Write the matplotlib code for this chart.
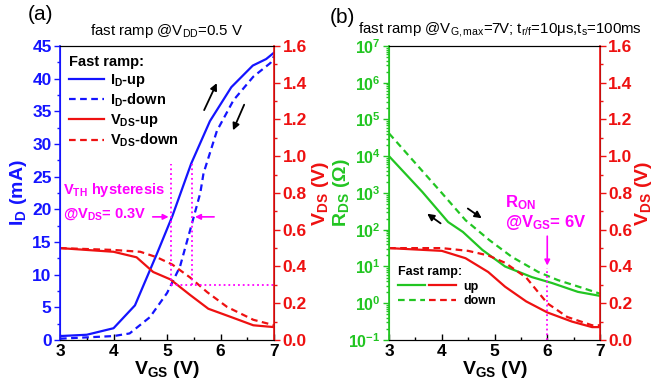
import numpy as np
import matplotlib.pyplot as plt
from matplotlib.ticker import MultipleLocator, LogLocator, NullFormatter, FormatStrFormatter
from matplotlib.legend_handler import HandlerTuple
from matplotlib.lines import Line2D

plt.rcParams['font.family'] = 'Liberation Sans'
plt.rcParams['mathtext.fontset'] = 'custom'
plt.rcParams['mathtext.rm'] = 'Liberation Sans'
plt.rcParams['mathtext.bf'] = 'Liberation Sans:bold'
plt.rcParams['mathtext.it'] = 'Liberation Sans:italic'

BLUE = '#1414ff'
RED = '#ee1111'
GREEN = '#22c522'
MAG = '#ff00ff'

# panel (a): I_D and V_DS vs V_GS
vg_id_up = [3, 3.5, 4, 4.4, 4.8, 5.1, 5.45, 5.8, 6.2, 6.6, 6.85, 7]
id_up = [0.6, 0.8, 1.8, 5.3, 13, 19, 27, 33.5, 38.7, 42, 43, 44]
vg_id_dn = [3, 4, 4.3, 4.68, 5.0, 5.24, 5.47, 5.62, 5.68, 5.93, 6.24, 6.61, 6.93, 7]
id_dn = [0.2, 0.6, 1.0, 3.5, 7.2, 11.2, 18, 22.5, 25.5, 32, 36.7, 40.3, 42.4, 43.5]
vg_vds_up = [3, 4, 4.43, 4.74, 5.06, 5.43, 5.77, 6.24, 6.61, 7]
vds_up = [0.5, 0.48, 0.45, 0.37, 0.33, 0.245, 0.17, 0.12, 0.08, 0.07]
vg_vds_dn = [3, 4, 4.5, 4.81, 5.1, 5.43, 5.75, 6.12, 6.61, 7]
vds_dn = [0.5, 0.49, 0.48, 0.45, 0.41, 0.34, 0.26, 0.18, 0.11, 0.08]

# panel (b): R_DS and V_DS vs V_GS
vg_r_up = [3, 3.63, 4.12, 4.4, 4.77, 5.2, 5.71, 6.09, 6.58, 7]
r_up = [1e4, 10**3.03, 10**2.21, 10**1.94, 10**1.45, 10**1.0, 10**0.71, 10**0.55, 10**0.31, 10**0.2]
vg_r_dn = [3, 4, 4.45, 4.9, 5.33, 5.83, 6.2, 6.66, 7]
r_dn = [10**4.62, 10**3.0, 10**2.26, 10**1.72, 10**1.26, 10**0.85, 10**0.63, 10**0.42, 10**0.26]
vg_b_up = [3, 4, 4.45, 4.88, 5.2, 5.6, 6.0, 6.47, 6.85, 7]
vds_b_up = [0.5, 0.485, 0.445, 0.37, 0.29, 0.21, 0.15, 0.1, 0.07, 0.07]
vg_b_dn = [3, 4, 4.5, 4.88, 5.2, 5.6, 6.0, 6.38, 6.85, 7]
vds_b_dn = [0.5, 0.5, 0.485, 0.46, 0.42, 0.34, 0.2, 0.125, 0.08, 0.08]

xticks = [3, 4, 5, 6, 7]
log_exps = list(range(-1, 8))

fig = plt.figure(figsize=(6.55, 3.92), dpi=100)
axA = fig.add_axes([0.0916, 0.1327, 0.327, 0.75])
axA2 = axA.twinx()
axB = fig.add_axes([0.594, 0.1327, 0.322, 0.75])
axB2 = axB.twinx()

tfs = 12.5
lfs = 14

def style_x(ax):
    ax.set_xlim(3, 7)
    ax.set_xticks(xticks)
    ax.xaxis.set_minor_locator(MultipleLocator(0.5))
    ax.tick_params(axis='x', which='both', direction='in', labelsize=tfs, width=1, pad=3)
    ax.tick_params(axis='x', which='major', length=4)
    ax.tick_params(axis='x', which='minor', length=2)
    for t in ax.get_xticklabels():
        t.set_fontweight('bold')
    ax.set_xlabel(r'V$_\mathbf{GS}$ (V)', fontsize=lfs, fontweight='bold', labelpad=0)

def style_y(ax, color, side, size=tfs):
    ax.tick_params(axis='y', which='both', direction='out', colors=color, labelsize=size, width=1, pad=2)
    ax.tick_params(axis='y', which='major', length=4)
    ax.tick_params(axis='y', which='minor', length=2)
    ax.spines[side].set_color(color)
    ax.spines[side].set_linewidth(1.2)
    for t in ax.get_yticklabels():
        t.set_fontweight('bold')

arrow_k = dict(arrowstyle='-|>', color='black', lw=1.3, mutation_scale=10)
arrow_m = dict(arrowstyle='-|>', color=MAG, lw=1.2, mutation_scale=8)

# ---- panel (a)
axA.plot(vg_id_up, id_up, color=BLUE, lw=1.6, label=r'I$_\mathbf{D}$-up')
axA.plot(vg_id_dn, id_dn, color=BLUE, lw=1.6, ls=(0, (3, 2)), label=r'I$_\mathbf{D}$-down')
axA2.plot(vg_vds_up, vds_up, color=RED, lw=1.6, label=r'V$_\mathbf{DS}$-up')
axA2.plot(vg_vds_dn, vds_dn, color=RED, lw=1.6, ls=(0, (3, 2)), label=r'V$_\mathbf{DS}$-down')

# magenta hysteresis annotation
axA2.plot([5.08, 5.08], [0.3, 0.96], color=MAG, lw=1.3, ls=':')
axA2.plot([5.47, 5.47], [0.3, 0.96], color=MAG, lw=1.3, ls=':')
axA2.plot([5.08, 7], [0.3, 0.3], color=MAG, lw=1.3, ls=':')
axA2.annotate('', xy=(5.08, 0.67), xytext=(4.68, 0.67), arrowprops=arrow_m)
axA2.annotate('', xy=(5.47, 0.67), xytext=(5.93, 0.67), arrowprops=arrow_m)
axA2.text(3.06, 0.815, r'V$_\mathbf{TH}$ hysteresis', color=MAG, fontsize=10.5, fontweight='bold', va='center')
axA2.text(3.06, 0.685, r'@V$_\mathbf{DS}$= 0.3V', color=MAG, fontsize=10.5, fontweight='bold', va='center')
# sweep direction arrows
axA.annotate('', xy=(5.95, 39.7), xytext=(5.67, 34.8), arrowprops=arrow_k)
axA.annotate('', xy=(6.21, 31.7), xytext=(6.46, 36.4), arrowprops=arrow_k)

axA.set_ylim(0, 45)
axA.yaxis.set_major_locator(MultipleLocator(5))
axA.yaxis.set_minor_locator(MultipleLocator(2.5))
axA2.set_ylim(0, 1.6)
axA2.yaxis.set_major_locator(MultipleLocator(0.2))
axA2.yaxis.set_minor_locator(MultipleLocator(0.1))
axA2.yaxis.set_major_formatter(FormatStrFormatter('%.1f'))
style_x(axA)
style_y(axA, BLUE, 'left')
style_y(axA2, RED, 'right')
axA2.spines['left'].set_color(BLUE)
axA.set_ylabel(r'I$_\mathbf{D}$ (mA)', color=BLUE, fontsize=lfs, fontweight='bold', labelpad=2)
axA2.set_ylabel(r'V$_\mathbf{DS}$ (V)', color=RED, fontsize=lfs, fontweight='bold', labelpad=2)
axA.set_title(r'fast ramp @V$_\mathrm{DD}$=0.5 V', fontsize=10.8, pad=8)
fig.text(0.043, 0.962, '(a)', fontsize=15, va='center')

h1, l1 = axA.get_legend_handles_labels()
h2, l2 = axA2.get_legend_handles_labels()
axA.legend(h1 + h2, l1 + l2, loc='upper left', frameon=False, title='Fast ramp:',
           title_fontproperties={'weight': 'bold', 'size': 10.5},
           prop={'weight': 'bold', 'size': 10.5}, handlelength=2.4,
           labelspacing=0.2, borderaxespad=0.2, alignment='left', handletextpad=0.4)

# ---- panel (b)
axB.plot(vg_r_up, r_up, color=GREEN, lw=1.6)
axB.plot(vg_r_dn, r_dn, color=GREEN, lw=1.6, ls=(0, (3, 2)))
axB2.plot(vg_b_up, vds_b_up, color=RED, lw=1.6)
axB2.plot(vg_b_dn, vds_b_dn, color=RED, lw=1.6, ls=(0, (3, 2)))

# R_ON annotation
axB2.plot([6, 6], [0, 0.39], color=MAG, lw=1.3, ls=':')
axB2.annotate('', xy=(6, 0.39), xytext=(6, 0.58), arrowprops=arrow_m)
axB2.text(5.2, 0.75, r'R$_\mathbf{ON}$', color=MAG, fontsize=12, fontweight='bold', va='center')
axB2.text(5.2, 0.64, r'@V$_\mathbf{GS}$= 6V', color=MAG, fontsize=12, fontweight='bold', va='center')
axB.annotate('', xy=(3.68, 10**2.48), xytext=(4.02, 10**2.13), arrowprops=arrow_k)
axB.annotate('', xy=(4.8, 10**2.27), xytext=(4.45, 10**2.62), arrowprops=arrow_k)

axB.set_yscale('log')
axB.set_ylim(1e-1, 1e7)
axB.set_yticks([10.0**k for k in log_exps])
axB.set_yticklabels([r'$\mathbf{10^{%d}}$' % k for k in log_exps])
axB.yaxis.set_minor_locator(LogLocator(base=10, subs=np.arange(2, 10), numticks=20))
axB.yaxis.set_minor_formatter(NullFormatter())
axB2.set_ylim(0, 1.6)
axB2.yaxis.set_major_locator(MultipleLocator(0.2))
axB2.yaxis.set_minor_locator(MultipleLocator(0.1))
axB2.yaxis.set_major_formatter(FormatStrFormatter('%.1f'))
style_x(axB)
style_y(axB, GREEN, 'left', size=11.5)
style_y(axB2, RED, 'right')
axB2.spines['left'].set_color(GREEN)
axB.set_ylabel(r'R$_\mathbf{DS}$ ($\mathbf{\Omega}$)', color=GREEN, fontsize=lfs, fontweight='bold')
axB.yaxis.set_label_coords(-0.175, 0.5)
axB2.set_ylabel(r'V$_\mathbf{DS}$ (V)', color=RED, fontsize=lfs, fontweight='bold', labelpad=0.5)
axB.set_title(r'fast ramp @V$_\mathrm{G,max}$=7V; t$_\mathrm{r/f}$=10μs,t$_\mathrm{s}$=100ms',
              fontsize=10.8, pad=9, x=0.525)
fig.text(0.503, 0.955, '(b)', fontsize=15, va='center')

hb_up = (Line2D([], [], color=GREEN, lw=1.6), Line2D([], [], color=RED, lw=1.6))
hb_dn = (Line2D([], [], color=GREEN, lw=1.6, ls=(0, (3, 2))), Line2D([], [], color=RED, lw=1.6, ls=(0, (3, 2))))
axB.legend([hb_up, hb_dn], ['up', 'down'], loc='lower left', bbox_to_anchor=(0.02, 0.095),
           frameon=False, title='Fast ramp:', title_fontproperties={'weight': 'bold', 'size': 9},
           prop={'weight': 'bold', 'size': 9}, handlelength=4.6, labelspacing=0.2,
           alignment='left', handletextpad=0.6, borderaxespad=0,
           handler_map={tuple: HandlerTuple(ndivide=None, pad=0.3)})

fig.savefig('out.png', dpi=100)
